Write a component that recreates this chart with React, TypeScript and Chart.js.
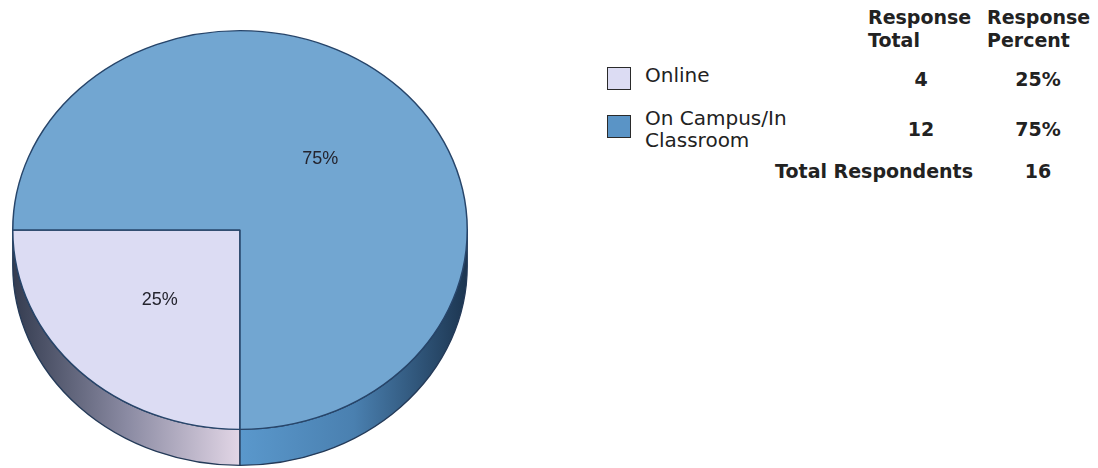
import React, { useEffect, useRef } from "react";
import { Chart, registerables } from "chart.js";

Chart.register(...registerables);

const categories = ["Online", "On Campus/In Classroom"];
const legendLines = [["Online"], ["On Campus/In", "Classroom"]];
const responseTotals = [4, 12];
const responsePercents = ["25%", "75%"];
const totalRespondents = 16;
const headerTotal = ["Response", "Total"];
const headerPercent = ["Response", "Percent"];

const topColors = ["#dcdcf3", "#72a6d1"];
const legendColors = ["#dcdcf3", "#5a94c6"];
const sideStops = [
  ["#343c50", "#8a8aa2", "#e2d6e6"],
  ["#5a98cc", "#4a80b0", "#1c3550"],
];
const Y_SCALE = 200 / 228;
const DEPTH = 36;

const pie3d = {
  id: "pie3d",
  beforeDatasetsDraw(chart: any) {
    const ctx = chart.ctx as CanvasRenderingContext2D;
    const arcs = chart.getDatasetMeta(0).data as any[];
    if (!arcs.length) return;
    const cx = arcs[0].x;
    const cy = arcs[0].y;
    const rx = arcs[0].outerRadius;
    const ry = rx * Y_SCALE;
    arcs.forEach((arc, i) => {
      const s = arc.startAngle;
      const e = arc.endAngle;
      for (const off of [-2 * Math.PI, 0, 2 * Math.PI]) {
        const lo = Math.max(s, off);
        const hi = Math.min(e, off + Math.PI);
        if (hi <= lo) continue;
        const xs = [cx + Math.cos(lo) * rx, cx + Math.cos(hi) * rx];
        const x0 = Math.min(...xs);
        const x1 = Math.max(...xs);
        ctx.save();
        ctx.beginPath();
        ctx.ellipse(cx, cy, rx, ry, 0, lo, hi, false);
        ctx.ellipse(cx, cy + DEPTH, rx, ry, 0, hi, lo, true);
        ctx.closePath();
        const g = ctx.createLinearGradient(x0, 0, x1, 0);
        const st = sideStops[i % sideStops.length];
        g.addColorStop(0, st[0]);
        g.addColorStop(0.5, st[1]);
        g.addColorStop(1, st[2]);
        ctx.fillStyle = g;
        ctx.fill();
        ctx.lineWidth = 1.3;
        ctx.strokeStyle = "#243a58";
        ctx.stroke();
        ctx.restore();
      }
    });
    ctx.save();
    ctx.translate(cx, cy);
    ctx.scale(1, Y_SCALE);
    ctx.translate(-cx, -cy);
  },
  afterDatasetsDraw(chart: any) {
    const ctx = chart.ctx as CanvasRenderingContext2D;
    ctx.restore();
    const arcs = chart.getDatasetMeta(0).data as any[];
    const values = chart.data.datasets[0].data as number[];
    const sum = values.reduce((a, b) => a + b, 0);
    ctx.save();
    ctx.font = "18px 'Liberation Sans', Arial, sans-serif";
    ctx.fillStyle = "#24242e";
    ctx.textAlign = "center";
    ctx.textBaseline = "middle";
    arcs.forEach((arc, i) => {
      const mid = (arc.startAngle + arc.endAngle) / 2;
      const r = arc.outerRadius * 0.5;
      const x = arc.x + Math.cos(mid) * r;
      const y = arc.y + Math.sin(mid) * r * Y_SCALE;
      ctx.fillText(Math.round((values[i] / sum) * 100) + "%", x, y);
    });
    ctx.restore();
  },
};

export default function App() {
  const ref = useRef<HTMLCanvasElement | null>(null);
  useEffect(() => {
    if (!ref.current) return;
    const chart = new Chart(ref.current, {
      type: "pie",
      data: {
        labels: categories,
        datasets: [
          {
            data: responseTotals,
            backgroundColor: topColors,
            borderColor: "#27456a",
            borderWidth: 1.5,
            clip: false as any,
          },
        ],
      },
      options: {
        animation: false,
        responsive: false,
        maintainAspectRatio: false,
        rotation: 180,
        events: [],
        layout: { padding: { left: 12, right: 12, top: 2, bottom: 10 } },
        plugins: {
          legend: { display: false },
          tooltip: { enabled: false },
          title: { display: false },
        },
      },
      plugins: [pie3d],
    });
    return () => chart.destroy();
  }, []);

  const reg: React.CSSProperties = {
    position: "absolute",
    fontFamily: "'DejaVu Sans', Verdana, sans-serif",
    fontSize: 20,
    lineHeight: "22px",
    color: "#222",
    whiteSpace: "nowrap",
  };
  const bold: React.CSSProperties = {
    ...reg,
    fontSize: 19,
    fontWeight: "bold",
  };

  const rowTops = [68, 118];
  const labelTops = [63.5, 106.7];
  const squareTops = [67, 115];

  return (
    <div style={{ position: "absolute", left: 0, top: 0, width: 1098, height: 468, background: "#fff" }}>
      <canvas ref={ref} width={480} height={468} style={{ position: "absolute", left: 0, top: 0 }} />
      <div style={{ ...bold, left: 868, top: 6, lineHeight: "23px" }}>
        {headerTotal.map((t, i) => (
          <div key={i}>{t}</div>
        ))}
      </div>
      <div style={{ ...bold, left: 987, top: 6, lineHeight: "23px" }}>
        {headerPercent.map((t, i) => (
          <div key={i}>{t}</div>
        ))}
      </div>
      {categories.map((c, i) => (
        <React.Fragment key={c}>
          <div
            style={{
              position: "absolute",
              left: 607,
              top: squareTops[i],
              width: 22,
              height: 21,
              background: legendColors[i],
              border: "1.5px solid #2a2a2a",
            }}
          />
          <div style={{ ...reg, left: 645, top: labelTops[i] }}>
            {legendLines[i].map((l, j) => (
              <div key={j}>{l}</div>
            ))}
          </div>
          <div style={{ ...bold, left: 871, width: 100, textAlign: "center", top: rowTops[i] }}>
            {responseTotals[i]}
          </div>
          <div style={{ ...bold, left: 988, width: 100, textAlign: "center", top: rowTops[i] }}>
            {responsePercents[i]}
          </div>
        </React.Fragment>
      ))}
      <div style={{ ...bold, left: 673, width: 300, textAlign: "right", top: 159.5 }}>Total Respondents</div>
      <div style={{ ...bold, left: 988, width: 100, textAlign: "center", top: 159.5 }}>{totalRespondents}</div>
    </div>
  );
}
